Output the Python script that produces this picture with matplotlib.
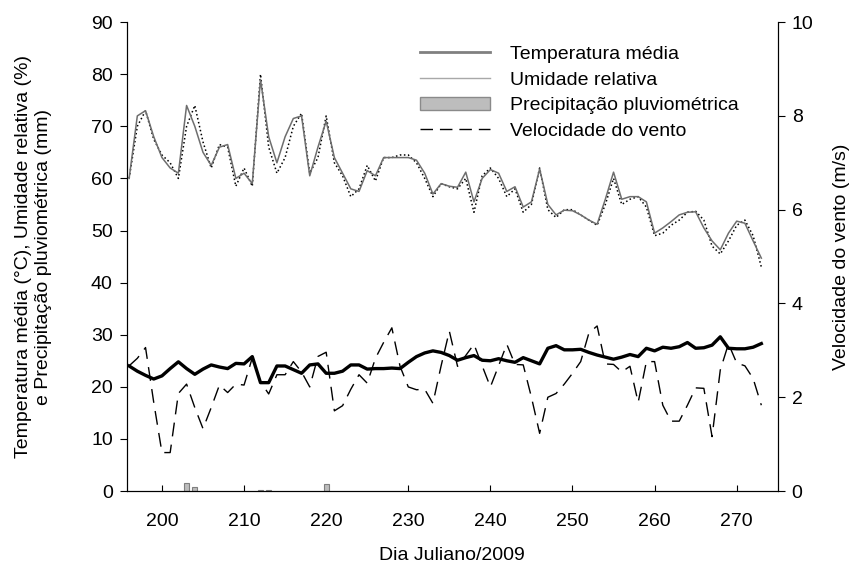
import matplotlib
matplotlib.use('Agg')
import matplotlib.pyplot as plt
from matplotlib.lines import Line2D
from matplotlib.patches import Patch

plt.rcParams.update({'font.family': ['Liberation Sans', 'DejaVu Sans'], 'font.size': 14})

# Julian days 196..273 (2009)
dias = list(range(196, 274))

temperatura = [24, 23, 22.2, 21.5, 22.1, 23.5, 24.8, 23.5, 22.4, 23.4,
               24.2, 23.8, 23.5, 24.5, 24.4, 25.8, 20.8, 20.8, 24, 24,
               23.3, 22.6, 24.2, 24.4, 22.6, 22.6, 23, 24.2, 24.2, 23.4,
               23.5, 23.5, 23.6, 23.5, 24.7, 25.8, 26.5, 26.9, 26.6, 26,
               25.1, 25.6, 26, 25.1, 25, 25.4, 25, 24.7, 25.6, 25,
               24.4, 27.4, 27.9, 27.1, 27.1, 27.2, 26.6, 26.1, 25.7, 25.3,
               25.7, 26.2, 25.8, 27.4, 26.9, 27.6, 27.4, 27.7, 28.5, 27.4,
               27.5, 28, 29.6, 27.4, 27.3, 27.3, 27.6, 28.3]

umidade = [60, 72, 73, 68, 64, 62, 61, 74, 70, 65,
           62.5, 66, 66.5, 60, 61, 59, 79, 68, 63, 68,
           71.5, 72, 60.5, 66, 71, 64, 61, 58, 57.5, 61.5,
           60.5, 64, 64, 64, 64, 63.5, 61, 57, 59, 58.5,
           58.3, 61.2, 55.5, 60, 61.7, 61, 57.5, 58.4, 54.5, 55.5,
           61.8, 55, 53, 53.9, 53.8, 53, 52, 51.2, 56, 61.2,
           56, 56.5, 56.5, 55.5, 49.5, 50.5, 51.7, 53, 53.5, 53.6,
           50.5, 48, 46.3, 49.5, 51.8, 51.4, 48, 44.7]

# dotted humidity series drawn alongside
umidade_2 = [60, 70, 73, 67.5, 64.5, 63, 60, 70, 74, 67,
             62, 66.5, 66, 58.5, 62, 58.5, 80, 66, 61, 64,
             70, 72.5, 61, 64, 72, 63, 60.5, 56.5, 58, 62.5,
             59.5, 64, 64, 64.5, 64.5, 63, 60, 56.5, 59, 58.4,
             58, 60, 53.5, 60.5, 62, 60, 56.5, 58, 53.5, 55,
             62, 54, 52.5, 54, 54, 53, 52, 51, 55, 60,
             55, 56, 56.5, 54.5, 49, 49.5, 51, 52, 53.5, 53.7,
             52, 47, 45.5, 48, 51, 52, 49, 43]

# wind speed (m/s), right axis
vento = [2.67, 2.83, 3.06, 1.89, 0.82, 0.82, 2.08, 2.28, 1.78, 1.33,
         1.78, 2.26, 2.1, 2.28, 2.26, 2.84, 2.33, 2.07, 2.48, 2.48,
         2.76, 2.54, 2.22, 2.87, 2.96, 1.71, 1.82, 2.17, 2.48, 2.3,
         2.83, 3.17, 3.48, 2.66, 2.22, 2.16, 2.17, 1.87, 2.67, 3.41,
         2.66, 2.89, 3.13, 2.67, 2.22, 2.67, 3.13, 2.7, 2.69, 2.0,
         1.23, 2.0, 2.08, 2.28, 2.51, 2.76, 3.37, 3.52, 2.71, 2.7,
         2.54, 2.66, 1.89, 2.76, 2.76, 1.83, 1.49, 1.49, 1.83, 2.2,
         2.19, 1.16, 2.58, 3.14, 2.73, 2.67, 2.4, 1.83]

dias_chuva = [203, 204, 212, 213, 220]
precipitacao = [1.47, 0.83, 0.2, 0.2, 1.28]

fig = plt.figure(figsize=(8.5, 5.67), dpi=100)
ax = fig.add_axes([0.149, 0.134, 0.766, 0.827])
ax2 = ax.twinx()

ax.bar(dias_chuva, precipitacao, width=0.6, color='#bdbdbd', edgecolor='#7f7f7f', linewidth=0.8, zorder=2)
ax.plot(dias, umidade_2, color='black', linestyle=':', linewidth=1.1, zorder=3)
ax.plot(dias, umidade, color='#6e6e6e', linewidth=1.1, zorder=4)
ax.plot(dias, temperatura, color='black', linewidth=2.4, zorder=5)
ax2.plot(dias, vento, color='black', linewidth=1.0, dashes=(10, 6))

ax.set_xlim(195.7, 275)
ax.set_ylim(0, 90)
ax2.set_ylim(0, 10)
ax.set_xticks(range(200, 271, 10))
ax.set_yticks(range(0, 91, 10))
ax2.set_yticks(range(0, 11, 2))

for a in (ax, ax2):
    a.spines['top'].set_visible(False)
    a.tick_params(labelsize=14)
ax.tick_params(axis='x', direction='in', length=4, pad=16)
ax.tick_params(axis='y', direction='out', length=5, pad=5)
ax2.tick_params(axis='y', direction='out', length=5, pad=5)

ax.set_xlabel('Dia Juliano/2009', fontsize=14, labelpad=12)
ax.set_ylabel('Temperatura média (°C), Umidade relativa (%)\ne Precipitação pluviométrica (mm)',
              fontsize=14, labelpad=28)
ax2.set_ylabel('Velocidade do vento (m/s)', fontsize=14, labelpad=14)

handles = [Line2D([], [], color='#808080', linewidth=2),
           Line2D([], [], color='#a8a8a8', linewidth=1),
           Patch(facecolor='#bdbdbd', edgecolor='#8a8a8a'),
           Line2D([], [], color='black', linewidth=1, dashes=(9, 5))]
labels = ['Temperatura média', 'Umidade relativa', 'Precipitação pluviométrica', 'Velocidade do vento']
ax2.legend(handles, labels, loc='upper left', bbox_to_anchor=(0.424, 0.988), frameon=False,
           fontsize=14, handlelength=3.6, handletextpad=1.0, labelspacing=0.42)

fig.savefig('out.png', dpi=100)
